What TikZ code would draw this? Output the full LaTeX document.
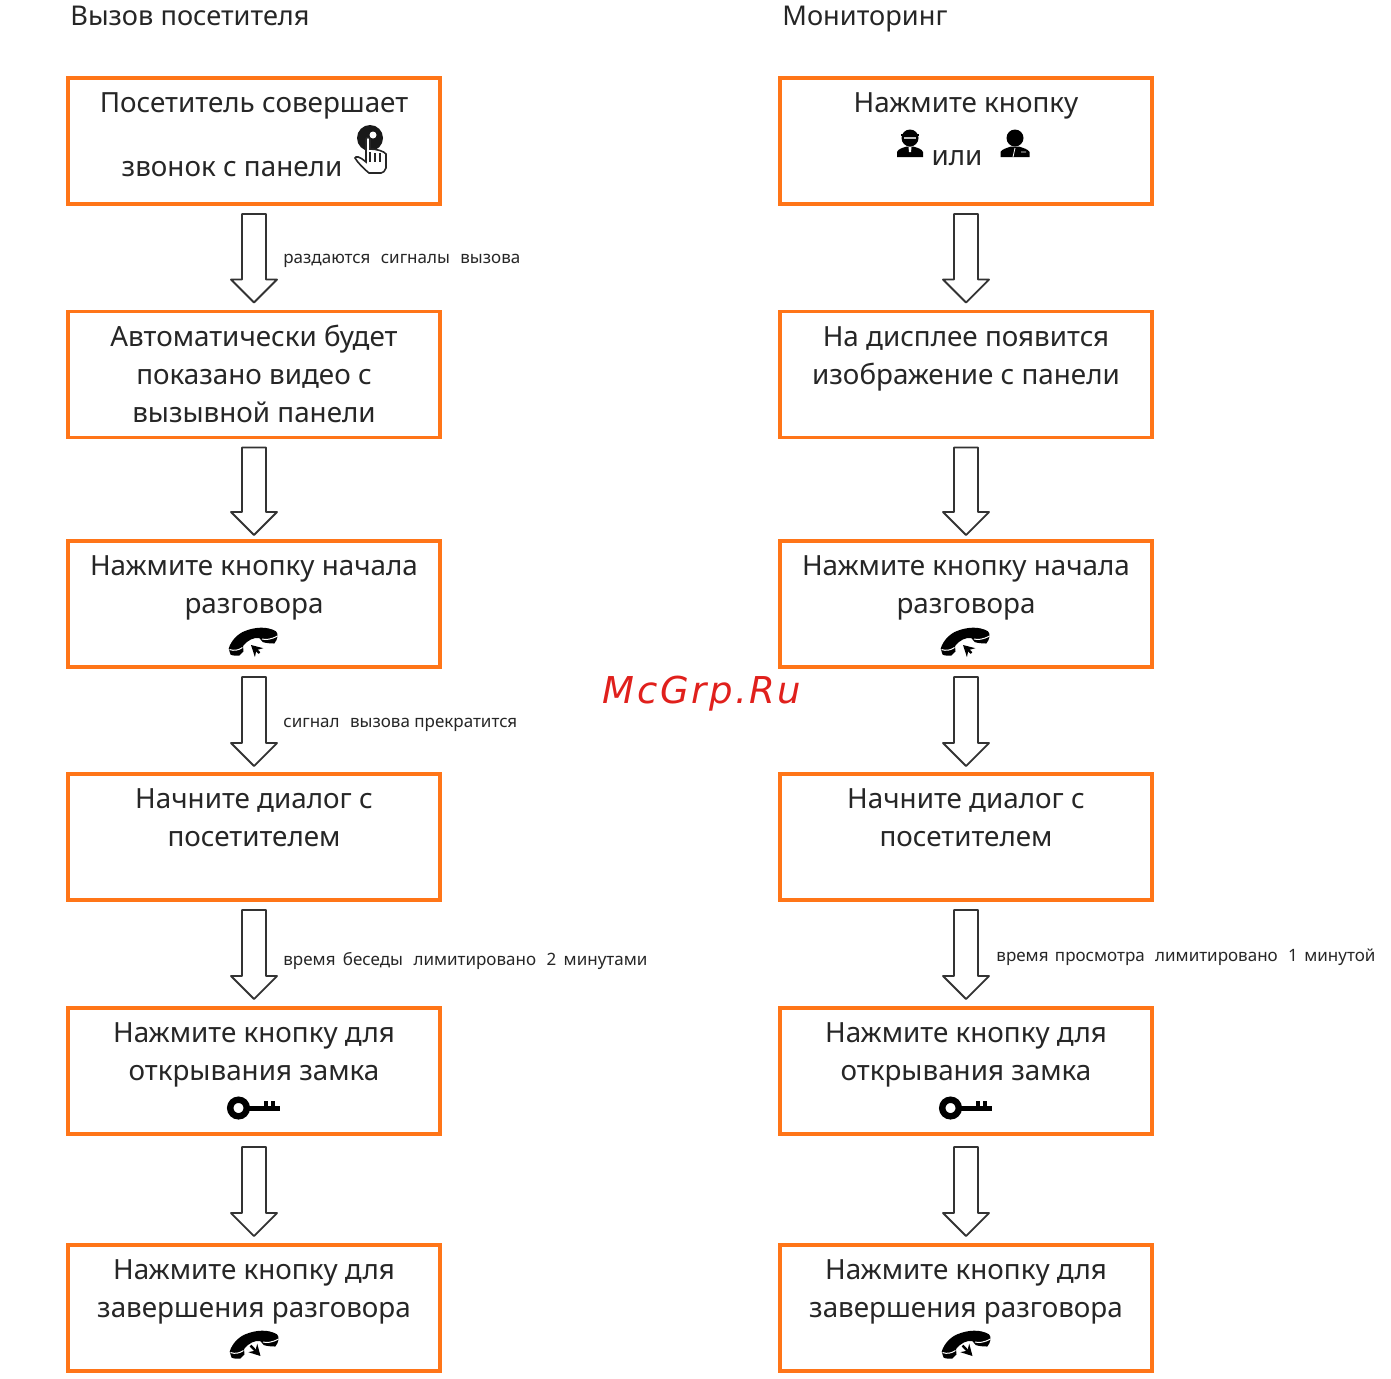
\documentclass[tikz,border=0pt]{standalone}
\usepackage{fontspec}
\setmainfont{Noto Sans}
\newfontfamily\markfont[LetterSpace=7]{DejaVu Sans}
\usetikzlibrary{calc,arrows.meta}
\definecolor{boxorange}{HTML}{FF7518}
\definecolor{inkdark}{HTML}{262626}
\definecolor{markred}{HTML}{E0201C}
\newcommand\flowtext[1]{\parbox[c][63pt][t]{186pt}{\centering\fontsize{13.9pt}{19pt}\selectfont\rule{0pt}{17.3pt}#1}}
\newcommand\flowarrow[4]{%
  \draw[blockarrow]
    ($(#1.south)+(-12,#3)$) -- ($(#1.south)+(12,#3)$)
    -- ($(#2.north)+(12,-#4-23)$) -- ($(#2.north)+(23,-#4-23)$)
    -- ($(#2.north)+(0,-#4)$)
    -- ($(#2.north)+(-23,-#4-23)$) -- ($(#2.north)+(-12,-#4-23)$) -- cycle;}
\tikzset{
  flowbox/.style={draw=boxorange,line width=1.9pt,inner sep=0pt,outer sep=0pt,fill=white,text=inkdark},
  blockarrow/.style={draw=black!80,line width=0.9pt,fill=white,line join=round},
  title/.style={anchor=base west,inner sep=0pt,text=inkdark,font=\fontsize{13.6pt}{16pt}\selectfont},
  note/.style={anchor=base west,inner sep=0pt,text=inkdark,font=\fontsize{8.5pt}{10pt}\selectfont},
  watermark/.style={anchor=base,inner sep=0pt,text=markred,font=\fontsize{18.5pt}{22pt}\markfont\itshape},
  iconarrow/.style={black,line width=1.2pt,-{Stealth[length=5.5pt,width=6pt]}},
  phoneshape/.pic={
    \fill[black] (-24.3,6.7) .. controls (-22,-2) and (-14,-9) .. (-8,-11)
      .. controls (2,-15) and (14,-16) .. (23,-10.7)
      .. controls (25.5,-8) and (25,-3) .. (21.3,1.5)
      .. controls (17,1.5) and (12,1) .. (9.7,0)
      -- (6.3,-4) .. controls (1,-5) and (-6,-1.5) .. (-10,4)
      -- (-9.5,9.3) -- (-13.7,13.5)
      .. controls (-17,14) and (-21,13.5) .. (-22.5,12.5) -- cycle;
    \draw[white,line width=0.5pt] (-23.5,7.5) .. controls (-19,9) and (-15,8.5) .. (-10.5,5.5);
    \draw[white,line width=0.5pt] (9,-3) .. controls (13,-2) and (18,-2.5) .. (24.5,-6);
  },
  keyshape/.pic={
    \draw[black,line width=3.2pt] (0,0) circle (8.3);
    \fill[black] (10,-2.4) rectangle (41,2.6);
    \fill[black] (25,-7) rectangle (29,0);
    \fill[black] (32,-7) rectangle (36,0);
  },
  guardshape/.pic={
    \fill[black] (-13,19) -- (-13,14) .. controls (-12,11) and (-7,9.5) .. (-3,8.5)
      -- (3,8.5) .. controls (7,9.5) and (12,11) .. (13,14) -- (13,19) -- cycle;
    \fill[white] (-1.5,9) -- (1.5,9) -- (1,14) -- (-1,14) -- cycle;
    \fill[black] (0,0) circle (8.5);
    \fill[black] (-9,-4) rectangle (9,-2);
    \fill[white!75!black] (-6,-1.5) rectangle (6,0.8);
  },
  ownershape/.pic={
    \fill[black] (-14.5,19) -- (-14.5,14) .. controls (-13,11) and (-8,10) .. (-4,8.5)
      -- (4,8.5) .. controls (8,10) and (13,11) .. (14.5,14) -- (14.5,19) -- cycle;
    \fill[black] (0,0) circle (8.5);
    \draw[white,line width=0.4pt] (0,10) -- (-2,19) (6,14) -- (11,14);
  },
  handshape/.pic={
    \fill[black!90] (0,0) circle (13);
    \fill[white] (3,-3) circle (3.5);
    \filldraw[fill=white,draw=black!85,line width=0.8pt]
      (-4,1) .. controls (-4,-1) and (0,-1) .. (0,1) -- (0,11)
      .. controls (6,11) and (14,13) .. (16,16) -- (16,30)
      .. controls (15,33) and (13,35) .. (11,35) -- (-1,35)
      .. controls (-6,31) and (-12,25) .. (-15,20)
      .. controls (-14,18) and (-11,18) .. (-4,24) -- cycle;
    \draw[black!85,line width=0.8pt] (0,14) -- (0,24) (5,15) -- (5,24) (10,15) -- (10,24);
  },
}
\begin{document}
\begin{tikzpicture}[x=0.5pt,y=-0.5pt]
\useasboundingbox (0,0) rectangle (1391,1378);
\node[title] (tl) at (70,25) {Вызов посетителя};
\node[title] (tr) at (782,25) {Мониторинг};

\node[flowbox] (l1) at (254,141) {\flowtext{Посетитель совершает\\[12.7pt]звонок с панели\hspace*{22pt}}};
\node[flowbox] (l2) at (254,374.5) {\flowtext{Автоматически будет\\показано видео с\\вызывной панели}};
\node[flowbox] (l3) at (254,604) {\flowtext{Нажмите кнопку начала\\разговора}};
\node[flowbox] (l4) at (254,837) {\flowtext{Начните диалог с\\посетителем}};
\node[flowbox] (l5) at (254,1071) {\flowtext{Нажмите кнопку для\\открывания замка}};
\node[flowbox] (l6) at (254,1308) {\flowtext{Нажмите кнопку для\\завершения разговора}};

\node[flowbox] (r1) at (966,141) {\flowtext{Нажмите кнопку\\[7.2pt]или\hspace*{9pt}}};
\node[flowbox] (r2) at (966,374.5) {\flowtext{На дисплее появится\\изображение с панели}};
\node[flowbox] (r3) at (966,604) {\flowtext{Нажмите кнопку начала\\разговора}};
\node[flowbox] (r4) at (966,837) {\flowtext{Начните диалог с\\посетителем}};
\node[flowbox] (r5) at (966,1071) {\flowtext{Нажмите кнопку для\\открывания замка}};
\node[flowbox] (r6) at (966,1308) {\flowtext{Нажмите кнопку для\\завершения разговора}};

\flowarrow{l1}{l2}{10}{9}
\flowarrow{l2}{l3}{10}{6}
\flowarrow{l3}{l4}{10}{8}
\flowarrow{l4}{l5}{10}{9}
\flowarrow{l5}{l6}{13}{9}
\flowarrow{r1}{r2}{10}{9}
\flowarrow{r2}{r3}{10}{6}
\flowarrow{r3}{r4}{10}{8}
\flowarrow{r4}{r5}{10}{9}
\flowarrow{r5}{r6}{13}{9}

\node[note] (n1) at (283,263) {раздаются\hspace{3pt} сигналы\hspace{3pt} вызова};
\node[note] (n2) at (283,727) {сигнал\hspace{3pt} вызова прекратится};
\node[note] (n3) at (283,965) {время\hspace{1.5pt} беседы\hspace{3pt} лимитировано\hspace{3pt} 2\hspace{1.5pt} минутами};
\node[note] (n4) at (996,961) {время\hspace{1pt} просмотра\hspace{3pt} лимитировано\hspace{3pt} 1\hspace{1pt} минутой};
\node[watermark] (wm) at (702,703) {McGrp.Ru};

\pic at (370,138) {handshape};
\pic at (910,138) {guardshape};
\pic at (1015,138) {ownershape};
\pic at (253,642) {phoneshape};
\pic at (965,642) {phoneshape};
\draw[iconarrow] (259.5,653) -- (251,645);
\draw[iconarrow] (971.5,653) -- (963,645);
\pic at (238.5,1108) {keyshape};
\pic at (950.5,1108) {keyshape};
\pic at (254,1345) {phoneshape};
\pic at (966,1345) {phoneshape};
\draw[iconarrow] (250.5,1345.5) -- (260.5,1356);
\draw[iconarrow] (962.5,1345.5) -- (972.5,1356);
\end{tikzpicture}
\end{document}
